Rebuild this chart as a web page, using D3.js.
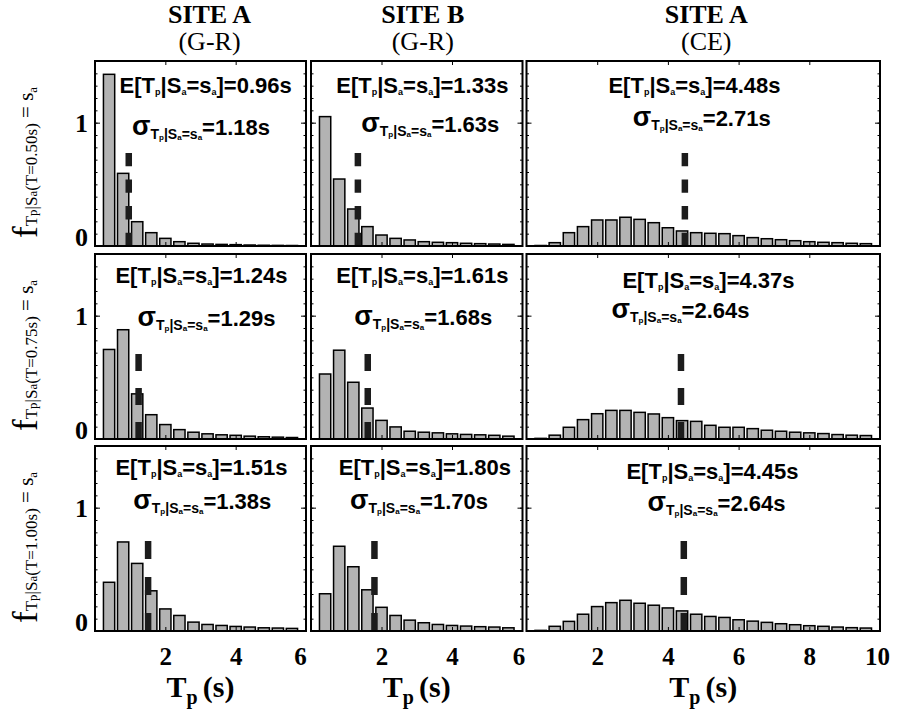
<!DOCTYPE html>
<html>
<head>
<meta charset="utf-8">
<script src="https://cdn.jsdelivr.net/npm/d3@7"></script>
<style>
  body { margin: 0; background: #fff; }
  svg { display: block; }
</style>
</head>
<body>
<svg id="chart" width="898" height="715"></svg>
<script>
// ---- data -------------------------------------------------------------
const colTitles = ["SITE A", "SITE B", "SITE A"];
const colModels = ["(G-R)", "(G-R)", "(CE)"];
const rowPeriods = ["0.50", "0.75", "1.00"];        // conditioning period T (s)
const xMax = [6, 6, 10];                             // Tp axis upper limit per column
const xTickValues = [[2, 4, 6], [2, 4, 6], [2, 4, 6, 8, 10]];
const yTickValues = [0, 1];
const binWidth = 0.4;                                // histogram bin width (s)

const meanTp = [
  [0.96, 1.33, 4.48],
  [1.24, 1.61, 4.37],
  [1.51, 1.80, 4.45]
];
const sigmaTp = [
  [1.18, 1.63, 2.71],
  [1.29, 1.68, 2.64],
  [1.38, 1.70, 2.64]
];

// conditional pdf of Tp, bins centred at 0.4, 0.8, 1.2, ... s
const pdfSiteA_GR_T050 = [1.392, 0.589, 0.197, 0.108, 0.062, 0.035, 0.022, 0.016, 0.013, 0.011, 0.008, 0.006, 0.005, 0.004];
const pdfSiteB_GR_T050 = [1.049, 0.543, 0.300, 0.157, 0.089, 0.062, 0.049, 0.035, 0.030, 0.027, 0.022, 0.019, 0.016, 0.013];
const pdfSiteA_CE_T050 = [0.004, 0.027, 0.108, 0.157, 0.211, 0.211, 0.233, 0.216, 0.189, 0.148, 0.122, 0.108, 0.103, 0.100, 0.084, 0.068, 0.059, 0.051, 0.043, 0.035, 0.030, 0.027, 0.022, 0.019];

const pdfSiteA_GR_T075 = [0.726, 0.886, 0.366, 0.197, 0.117, 0.076, 0.055, 0.042, 0.034, 0.030, 0.023, 0.018, 0.015, 0.012];
const pdfSiteB_GR_T075 = [0.527, 0.720, 0.460, 0.251, 0.151, 0.098, 0.063, 0.055, 0.050, 0.042, 0.037, 0.034, 0.030, 0.023];
const pdfSiteA_CE_T075 = [0.005, 0.031, 0.095, 0.157, 0.205, 0.232, 0.232, 0.216, 0.203, 0.173, 0.149, 0.143, 0.111, 0.095, 0.095, 0.084, 0.071, 0.063, 0.055, 0.050, 0.044, 0.036, 0.031, 0.028];

const pdfSiteA_GR_T100 = [0.395, 0.722, 0.548, 0.326, 0.179, 0.126, 0.072, 0.053, 0.045, 0.037, 0.032, 0.026, 0.024, 0.021];
const pdfSiteB_GR_T100 = [0.302, 0.687, 0.521, 0.334, 0.192, 0.126, 0.088, 0.067, 0.053, 0.045, 0.040, 0.035, 0.032, 0.026];
const pdfSiteA_CE_T100 = [0.005, 0.038, 0.078, 0.136, 0.198, 0.230, 0.249, 0.225, 0.209, 0.187, 0.163, 0.136, 0.118, 0.110, 0.091, 0.080, 0.070, 0.059, 0.051, 0.043, 0.038, 0.032, 0.027, 0.024];

const pdfGrid = [
  [pdfSiteA_GR_T050, pdfSiteB_GR_T050, pdfSiteA_CE_T050],
  [pdfSiteA_GR_T075, pdfSiteB_GR_T075, pdfSiteA_CE_T075],
  [pdfSiteA_GR_T100, pdfSiteB_GR_T100, pdfSiteA_CE_T100]
];

// ---- layout -----------------------------------------------------------
const colX = [[95, 306], [311, 522.5], [526.5, 880]];
const rowTop = [61, 254, 446];
const rowH = 185;
const yMax = 1.5;
const meanLineTop = 0.76;
const dashByRow = ["13.3 13.3", "17 17", "18 18"];
// annotation anchors inside each panel: [E centre x, E baseline, sigma centre x, sigma baseline]
const annoPos = [
  [[110.7, 32.3, 106, 73.5], [111.3, 32.3, 119.3, 70.7], [168, 31.7, 175.2, 65]],
  [[106.5, 29.3, 111.5, 72], [111.3, 29.3, 112.2, 71], [182, 34, 154, 64]],
  [[106.5, 29.3, 107.3, 62.7], [113.8, 29.3, 108, 62.7], [186, 32.5, 190, 65]]
];
const titleShift = [9, 6, 3];
const lastLabelShift = [-6, -4, -3];

const SERIF = "'Liberation Serif', 'Times New Roman', serif";
const SANS = "'Liberation Sans', Arial, sans-serif";
const BAR_FILL = "#b3b3b3";

const svg = d3.select("#chart");
svg.append("rect").attr("width", 898).attr("height", 715).attr("fill", "#fff");

// ---- panels -----------------------------------------------------------
pdfGrid.forEach((rowData, r) => {
  rowData.forEach((pdf, c) => {
    const x = d3.scaleLinear().domain([0, xMax[c]]).range(colX[c]);
    const y = d3.scaleLinear().domain([0, yMax]).range([rowTop[r] + rowH, rowTop[r]]);
    const g = svg.append("g");

    // histogram bars
    g.selectAll("rect.bar")
      .data(pdf)
      .join("rect")
      .attr("class", "bar")
      .attr("x", (d, i) => x(binWidth * (i + 1) - 0.4 * binWidth))
      .attr("width", (d, i) => x(binWidth * (i + 1) + 0.4 * binWidth) - x(binWidth * (i + 1) - 0.4 * binWidth))
      .attr("y", d => y(d))
      .attr("height", d => y(0) - y(d))
      .attr("fill", BAR_FILL)
      .attr("stroke", "#000")
      .attr("stroke-width", 1.5);

    // mean marker
    g.append("line")
      .attr("x1", x(meanTp[r][c])).attr("x2", x(meanTp[r][c]))
      .attr("y1", y(0)).attr("y2", y(meanLineTop))
      .attr("stroke", "#1c1c1c")
      .attr("stroke-width", 6.5)
      .attr("stroke-dasharray", dashByRow[r]);

    // inward ticks on all four sides
    const tickStyle = sel => {
      sel.select(".domain").remove();
      sel.selectAll("line").attr("stroke", "#000").attr("stroke-width", 1);
      sel.selectAll("text").remove();
    };
    const minorY = d3.ticks(0, yMax, 15);
    g.append("g").attr("transform", `translate(${colX[c][0]},0)`)
      .call(d3.axisLeft(y).tickValues(minorY).tickSize(-2.5)).call(tickStyle);
    g.append("g").attr("transform", `translate(${colX[c][1]},0)`)
      .call(d3.axisRight(y).tickValues(minorY).tickSize(-2.5)).call(tickStyle);
    g.append("g").attr("transform", `translate(${colX[c][0]},0)`)
      .call(d3.axisLeft(y).tickValues(yTickValues).tickSize(-5)).call(tickStyle);
    g.append("g").attr("transform", `translate(${colX[c][1]},0)`)
      .call(d3.axisRight(y).tickValues(yTickValues).tickSize(-5)).call(tickStyle);
    const innerX = xTickValues[c].filter(v => v < xMax[c]);
    g.append("g").attr("transform", `translate(0,${y(0)})`)
      .call(d3.axisBottom(x).tickValues(innerX).tickSize(-4)).call(tickStyle);
    g.append("g").attr("transform", `translate(0,${y(yMax)})`)
      .call(d3.axisTop(x).tickValues(innerX).tickSize(-4)).call(tickStyle);

    // frame
    g.append("rect")
      .attr("x", colX[c][0]).attr("y", rowTop[r])
      .attr("width", colX[c][1] - colX[c][0]).attr("height", rowH)
      .attr("fill", "none").attr("stroke", "#000").attr("stroke-width", 2);

    // y tick labels on the first column
    if (c === 0) {
      const ya = g.append("g").attr("transform", `translate(${colX[c][0]},0)`)
        .call(d3.axisLeft(y).tickValues(yTickValues).tickSize(0).tickPadding(7).tickFormat(d3.format("d")));
      ya.select(".domain").remove();
      ya.selectAll("text")
        .attr("font-family", SERIF).attr("font-size", 26).attr("font-weight", "bold").attr("fill", "#000")
        .attr("dy", d => d === 0 ? "-0.02em" : "0.34em");
    }

    // x tick labels on the bottom row
    if (r === 2) {
      const xa = g.append("g").attr("transform", `translate(0,${y(0)})`)
        .call(d3.axisBottom(x).tickValues(xTickValues[c]).tickSize(0).tickPadding(16).tickFormat(d3.format("d")));
      xa.select(".domain").remove();
      xa.selectAll("text")
        .attr("font-family", SERIF).attr("font-size", 25).attr("font-weight", "bold").attr("fill", "#000")
        .attr("dx", d => d === xMax[c] ? lastLabelShift[c] : 0);
    }

    // annotations: conditional mean and standard deviation
    const [ex, ey, sx, sy] = annoPos[r][c];
    const px = colX[c][0], py = rowTop[r];
    const eText = g.append("text")
      .attr("x", px + ex).attr("y", py + ey)
      .attr("text-anchor", "middle")
      .attr("font-family", SANS).attr("font-weight", "bold").attr("font-size", 22).attr("fill", "#000");
    eText.append("tspan").text("E[T");
    eText.append("tspan").attr("font-size", 9).attr("dy", 2).text("p");
    eText.append("tspan").attr("dy", -2).text("|S");
    eText.append("tspan").attr("font-size", 9).attr("dy", 2).text("a");
    eText.append("tspan").attr("dy", -2).text("=s");
    eText.append("tspan").attr("font-size", 9).attr("dy", 2).text("a");
    eText.append("tspan").attr("dy", -2).text(`]=${meanTp[r][c].toFixed(2)}s`);

    const sText = g.append("text")
      .attr("x", px + sx).attr("y", py + sy)
      .attr("text-anchor", "middle")
      .attr("font-family", SANS).attr("font-weight", "bold").attr("font-size", 22).attr("fill", "#000");
    sText.append("tspan").attr("font-size", 27).text("σ");
    sText.append("tspan").attr("font-size", 14).attr("dy", 4).text("T");
    sText.append("tspan").attr("font-size", 8).attr("dy", 1).text("p");
    sText.append("tspan").attr("font-size", 14).attr("dy", -1).text("|S");
    sText.append("tspan").attr("font-size", 8).attr("dy", 1).text("a");
    sText.append("tspan").attr("font-size", 14).attr("dy", -1).text("=s");
    sText.append("tspan").attr("font-size", 8).attr("dy", 1).text("a");
    sText.append("tspan").attr("dy", -5).text(`=${sigmaTp[r][c].toFixed(2)}s`);
  });

  // y-axis label for the row
  const ly = rowTop[r] + rowH - 8;
  const yl = svg.append("text")
    .attr("transform", `translate(37,${ly}) rotate(-90)`)
    .attr("font-family", SERIF).attr("fill", "#000");
  yl.append("tspan").attr("font-size", 35).text("f");
  yl.append("tspan").attr("font-size", 17).text("T");
  yl.append("tspan").attr("font-size", 13).text("p");
  yl.append("tspan").attr("font-size", 17).text("|S");
  yl.append("tspan").attr("font-size", 13).text("a");
  yl.append("tspan").attr("font-size", 17).text(`(T=${rowPeriods[r]}s)`);
  yl.append("tspan").attr("font-size", 21).attr("dy", -4).text(" = s");
  yl.append("tspan").attr("font-size", 13).attr("dy", 4).text("a");
});

// ---- column titles and x-axis labels ---------------------------------
colTitles.forEach((t, c) => {
  const cx = (colX[c][0] + colX[c][1]) / 2;
  svg.append("text")
    .attr("x", cx + titleShift[c]).attr("y", 23)
    .attr("text-anchor", "middle")
    .attr("font-family", SERIF).attr("font-weight", "bold").attr("font-size", 26)
    .text(t);
  svg.append("text")
    .attr("x", cx + titleShift[c]).attr("y", 49.5)
    .attr("text-anchor", "middle")
    .attr("font-family", SERIF).attr("font-size", 26)
    .text(colModels[c]);

  const xl = svg.append("text")
    .attr("x", cx).attr("y", 697)
    .attr("text-anchor", "middle")
    .attr("font-family", SERIF).attr("font-weight", "bold").attr("font-size", 30);
  xl.append("tspan").text("T");
  xl.append("tspan").attr("font-size", 20).attr("dy", 7).text("p ");
  xl.append("tspan").attr("dy", -7).text("(s)");
});
</script>
</body>
</html>
